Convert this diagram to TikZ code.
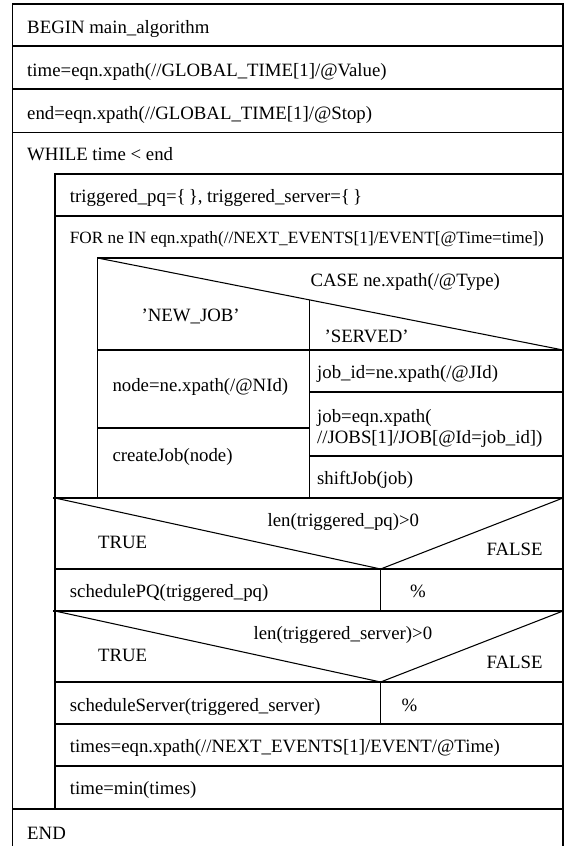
\documentclass[tikz,border=0pt]{standalone}
\usepackage{fontspec}
\setmainfont{Liberation Serif}
\begin{document}
\begin{tikzpicture}[x=0.75pt,y=-0.75pt,line cap=butt,line join=miter,line width=0.8pt,
	txt/.style={anchor=base west,inner sep=0pt,font=\fontsize{14.1}{16}\selectfont},
	smalltxt/.style={anchor=base west,inner sep=0pt,font=\fontsize{12.9}{15}\selectfont}]
	\useasboundingbox (0,0) rectangle (566,846);
	% outer frame and main rows
	\draw (12.7,846) -- (12.7,4) -- (563,4) -- (563,846);
	\foreach \y in {46,89,132.5,809}{
		\draw (12.7,\y) -- (563,\y);
	}
	\node[txt] (begin) at (26.7,33) {BEGIN main\_algorithm};
	\node[txt] (tinit) at (26.7,76) {time=eqn.xpath(//GLOBAL\_TIME[1]/@Value)};
	\node[txt] (tend) at (26.7,119.5) {end=eqn.xpath(//GLOBAL\_TIME[1]/@Stop)};
	\node[txt] (while) at (26.7,160) {WHILE time < end};
	\node[txt] (fin) at (26.7,839) {END};
	% while body
	\draw (55,809) -- (55,174) -- (563,174);
	\foreach \y in {216,569,682,724,766}{
		\draw (55,\y) -- (563,\y);
	}
	\node[txt] (trig) at (69.4,202) {triggered\_pq=\{\,\}, triggered\_server=\{\,\}};
	\node[smalltxt] (for) at (69.4,243) {FOR ne IN eqn.xpath(//NEXT\_EVENTS[1]/EVENT[@Time=time])};
	% case block
	\draw (97.6,498) -- (97.6,258) -- (563,258);
	\draw (97.6,258) -- (563,350);
	\draw (97.6,350) -- (563,350);
	\draw (309.7,299.8) -- (309.7,498);
	\draw (97.6,428) -- (309.7,428);
	\draw (309.7,392) -- (563,392) (309.7,456) -- (563,456);
	\node[txt] (case) at (310,286.5) {CASE ne.xpath(/@Type)};
	\node[txt] (newjob) at (141,321.5) {'NEW\_JOB'};
	\node[txt] (served) at (324,342.5) {'SERVED'};
	\node[txt] (nodeid) at (112,391.5) {node=ne.xpath(/@NId)};
	\node[txt] (create) at (112,461.5) {createJob(node)};
	\node[txt] (jobid) at (316.6,378) {job\_id=ne.xpath(/@JId)};
	\node[txt,align=left,anchor=north west] (jobget) at (316.6,409) {job=eqn.xpath(\\[-0.5pt]//JOBS[1]/JOB[@Id=job\_id])};
	\node[txt] (shift) at (316.6,484) {shiftJob(job)};
	% if blocks
	\foreach \y in {498,611}{
		\draw (53,\y) -- (563,\y);
		\draw (55,\y) -- (380.6,\y+71) -- (563,\y);
		\draw (380.6,\y+71) -- (380.6,\y+113);
	}
	\node[txt] (cond1) at (267,526.7) {len(triggered\_pq)>0};
	\node[txt] (true1) at (97.6,548.3) {TRUE};
	\node[txt] (false1) at (486,555.7) {FALSE};
	\node[txt] (sched1) at (69.4,597) {schedulePQ(triggered\_pq)};
	\node[txt] (pct1) at (409.5,597) {\%};
	\node[txt] (cond2) at (253,639.3) {len(triggered\_server)>0};
	\node[txt] (true2) at (97.6,661.7) {TRUE};
	\node[txt] (false2) at (486,668.3) {FALSE};
	\node[txt] (sched2) at (69.4,711) {scheduleServer(triggered\_server)};
	\node[txt] (pct2) at (401,711) {\%};
	\node[txt] (times) at (69.4,752.7) {times=eqn.xpath(//NEXT\_EVENTS[1]/EVENT/@Time)};
	\node[txt] (tmin) at (69.4,794.3) {time=min(times)};
\end{tikzpicture}
\end{document}
